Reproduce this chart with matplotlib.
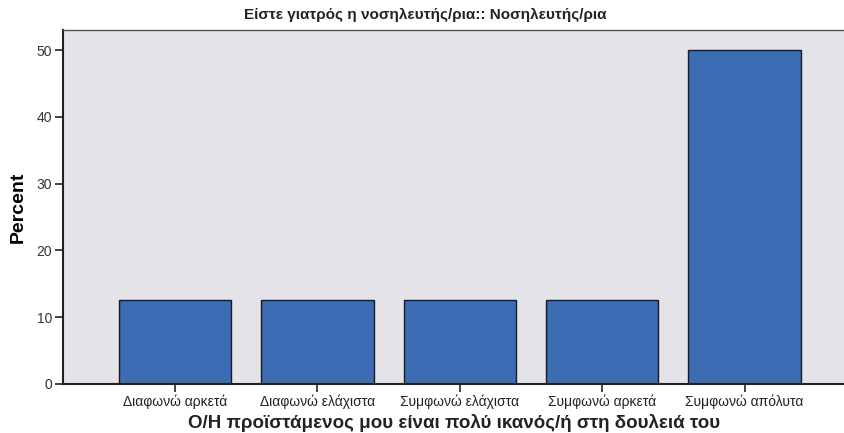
import matplotlib.pyplot as plt
import numpy as np

plt.rcParams['font.family'] = ['Liberation Sans', 'DejaVu Sans']

categories = ["Διαφωνώ αρκετά", "Διαφωνώ ελάχιστα", "Συμφωνώ ελάχιστα",
              "Συμφωνώ αρκετά", "Συμφωνώ απόλυτα"]
percent = [12.5, 12.5, 12.5, 12.5, 50.0]
yticks = [0, 10, 20, 30, 40, 50]

title = "Είστε γιατρός η νοσηλευτής/ρια:: Νοσηλευτής/ρια"
xlabel = "Ο/Η προϊστάμενος μου είναι πολύ ικανός/ή στη δουλειά του"

fig = plt.figure(figsize=(8.45, 4.33), dpi=100)
ax = fig.add_axes([0.0746, 0.1132, 1 - 0.0746, 0.9307 - 0.1132])
ax.set_facecolor('#e4e4e8')

x = np.arange(len(categories))
ax.bar(x, percent, width=0.79, color='#3b6cb4', edgecolor='#1a1a22', linewidth=1.0)

ax.set_xlim(-0.787, 4.705)
ax.set_ylim(0, 53)
ax.set_yticks(yticks)
ax.set_xticks(x)
ax.set_xticklabels(categories, fontsize=10)
ax.tick_params(axis='y', labelsize=10, length=6, width=1.2, colors='#222222',
               labelcolor='#333333', pad=2)
ax.tick_params(axis='x', length=6, width=1.2, colors='#222222', pad=1.5)

for s in ['left', 'bottom']:
    ax.spines[s].set_linewidth(1.5)
    ax.spines[s].set_color('#222222')
ax.spines['top'].set_color('#555555')
ax.spines['top'].set_linewidth(1.0)
ax.spines['right'].set_visible(False)

ax.set_ylabel("Percent", fontsize=14, fontweight='bold', labelpad=7)
ax.set_xlabel(xlabel, fontsize=13.5, fontweight='bold', labelpad=3.5, color='#222222')
fig.text(425 / 845, 1 - 15 / 433, title, ha='center', va='center', fontsize=11,
         fontweight='bold', color='#222222')

fig.savefig("out.png", dpi=100, facecolor='white')
